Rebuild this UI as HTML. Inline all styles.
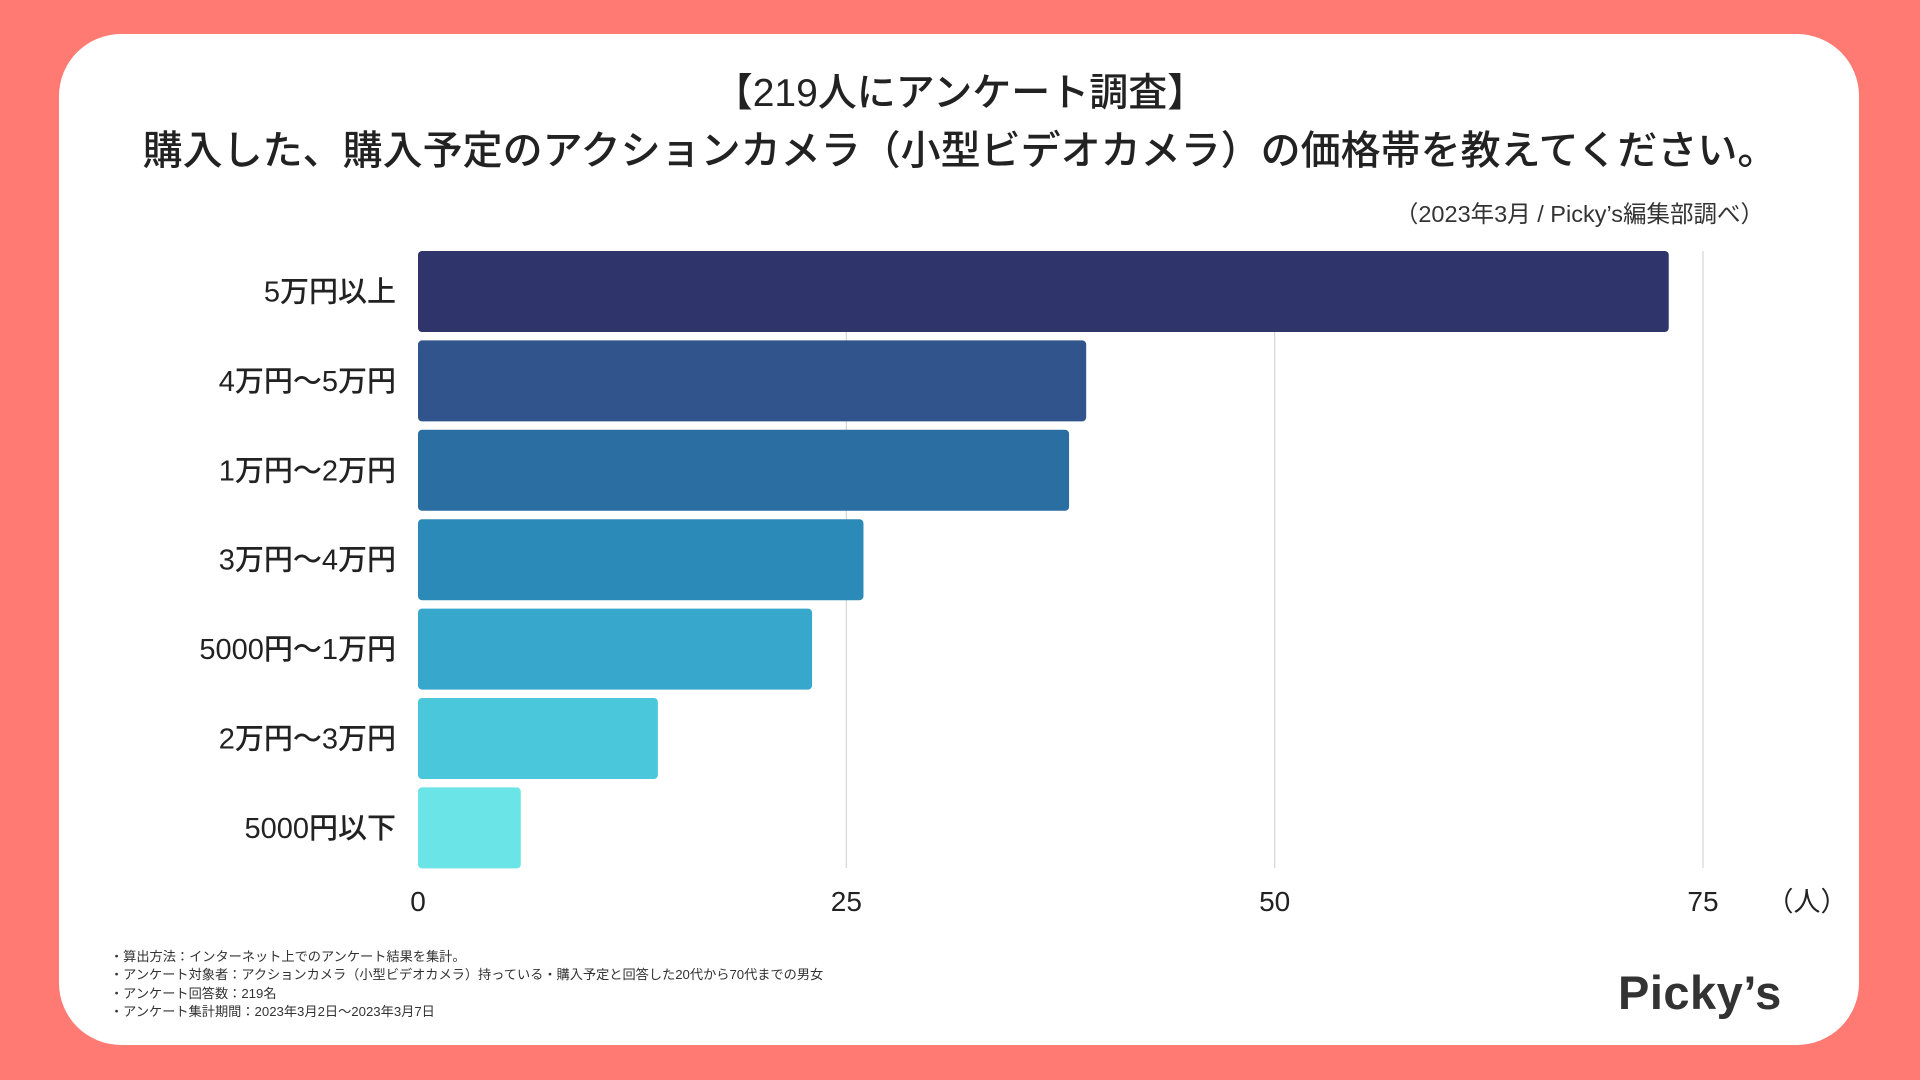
<!DOCTYPE html>
<html><head><meta charset="utf-8"><style>
body{margin:0;width:1920px;height:1080px;background:#ff7a73;overflow:hidden;font-family:"Liberation Sans","Noto Sans CJK JP",sans-serif;}
#card{position:absolute;left:59px;top:34px;width:1800px;height:1011px;background:#fff;border-radius:62px;}
.t{position:absolute;white-space:nowrap;color:#222;}
</style></head><body>
<div id="card"></div>
<div class="t" style="left:0;width:1920px;text-align:center;top:62px;font-size:39px;font-weight:500;">【219人にアンケート調査】</div>
<div class="t" style="left:0;width:1920px;text-align:center;top:118px;font-size:40px;font-weight:500;">購入した、購入予定のアクションカメラ（小型ビデオカメラ）の価格帯を教えてください。</div>
<div class="t" style="right:156px;top:195px;font-size:23.5px;color:#333;">（2023年3月 / Picky’s編集部調べ）</div>
<svg id="chart" width="1920" height="1080" style="position:absolute;left:0;top:0"></svg>
<div class="t" style="left:110px;top:948px;font-size:13.2px;line-height:18.3px;color:#333;">・算出方法：インターネット上でのアンケート結果を集計。<br>・アンケート対象者：アクションカメラ（小型ビデオカメラ）持っている・購入予定と回答した20代から70代までの男女<br>・アンケート回答数：219名<br>・アンケート集計期間：2023年3月2日〜2023年3月7日</div>
<div class="t" style="left:1618px;top:965px;font-size:47px;font-weight:bold;color:#333;letter-spacing:0.5px;">Picky’s</div>
<script>
const categories=["5万円以上","4万円〜5万円","1万円〜2万円","3万円〜4万円","5000円〜1万円","2万円〜3万円","5000円以下"];
const values=[73,39,38,26,23,14,6];
const colors=["#2f356b","#30548b","#2b6fa2","#2b8ab8","#37a8cc","#4bc7dc","#6ae4e6"];
const ticks=[0,25,50,75];
const NS="http://www.w3.org/2000/svg";
const svg=document.getElementById("chart");
const x0=418,pxPer=(1703-418)/75;
const xs=v=>x0+v*pxPer;
const yTop=251,pitch=89.4,bh=81;
const ys=i=>yTop+i*pitch;
function mk(t,a){const e=document.createElementNS(NS,t);for(const k in a)e.setAttribute(k,a[k]);svg.appendChild(e);return e;}
ticks.forEach(t=>{
 if(t>0){const l=mk("line",{x1:xs(t),x2:xs(t),y1:251,y2:868,stroke:"#d5d5d5","stroke-width":1.2});
 
 }
 const tx=mk("text",{x:xs(t),y:911,"text-anchor":"middle","font-size":28,"font-weight":500,fill:"#222","font-family":"Liberation Sans, Noto Sans CJK JP, sans-serif"});
 tx.textContent=t;
 
 
});
const u=mk("text",{x:1807,y:911,"text-anchor":"middle","font-size":27,fill:"#222","font-family":"Liberation Sans, Noto Sans CJK JP, sans-serif"});
u.textContent="（人）";


categories.forEach((c,i)=>{
 const r=mk("rect",{x:x0,y:ys(i),width:xs(values[i])-x0,height:bh,rx:4,fill:colors[i]});
 
 
 const tx=mk("text",{x:396,y:ys(i)+bh/2+10,"text-anchor":"end","font-size":29,"font-weight":500,fill:"#222","font-family":"Liberation Sans, Noto Sans CJK JP, sans-serif"});
 tx.textContent=c;
 
 
});
</script>
</body></html>
